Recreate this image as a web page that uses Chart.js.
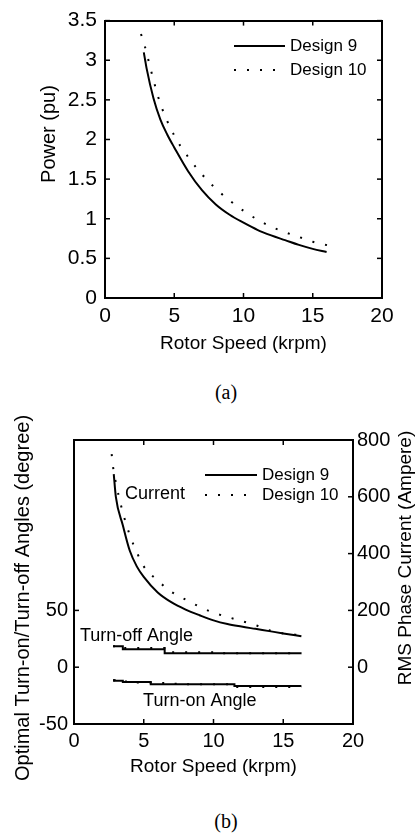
<!DOCTYPE html>
<html>
<head>
<meta charset="utf-8">
<title>Power and optimal angles vs rotor speed</title>
<script src="https://cdn.jsdelivr.net/npm/chart.js@4.4.1/dist/chart.umd.min.js"></script>
<style>
  html, body { margin: 0; padding: 0; background: #fff; }
  body { width: 417px; height: 835px; position: relative; overflow: hidden; }
  canvas { position: absolute; left: 0; }
  #powerChart { top: 0; }
  #angleChart { top: 405px; }
  .caption { position: absolute; left: 186px; width: 80px; text-align: center; font: 20px "Liberation Serif", serif; color: #000; }
</style>
</head>
<body>
<canvas id="powerChart" width="417" height="375"></canvas>
<div class="caption" style="top:381px">(a)</div>
<canvas id="angleChart" width="417" height="400"></canvas>
<div class="caption" style="top:810px">(b)</div>
<script>
'use strict';

// tick labels
const speedTicks = [0, 5, 10, 15, 20];
const powerTicks = [0, 0.5, 1, 1.5, 2, 2.5, 3, 3.5];
const angleTicks = [-50, 0, 50];
const currentTicks = [0, 200, 400, 600, 800];

// (a) power vs rotor speed
const powerSpeed9 = [2.8, 2.9, 3, 3.5, 4, 4.5, 5, 6, 7, 8, 9, 10, 11, 12, 13, 14, 15, 16];
const power9 = [3.1, 3.0, 2.9, 2.52, 2.25, 2.06, 1.9, 1.6, 1.36, 1.18, 1.05, 0.95, 0.86, 0.79, 0.73, 0.67, 0.62, 0.58];
const powerSpeed10 = [2.6, 2.9, 3.5, 4, 5, 6, 7, 8, 9, 10, 11, 12, 13, 14, 15, 16.2];
const power10 = [3.33, 3.16, 2.75, 2.45, 2.05, 1.78, 1.56, 1.38, 1.23, 1.1, 0.99, 0.9, 0.83, 0.77, 0.71, 0.66];

// (b) RMS phase current vs rotor speed
const currentSpeed9 = [2.85, 3, 3.5, 4, 4.5, 5, 6, 7, 8, 9, 10, 11, 12, 13, 14, 15, 16.3];
const current9 = [680, 600, 500, 410, 355, 318, 263, 228, 203, 183, 165, 152, 143, 135, 127, 119, 109];
const currentSpeed10 = [2.7, 2.8, 3, 3.5, 4, 4.5, 5, 6, 7, 8, 9, 10, 11, 12, 13, 14, 15, 16.3];
const current10 = [750, 705, 650, 545, 465, 405, 355, 305, 265, 238, 213, 192, 177, 163, 148, 130, 119, 113];

// (b) optimal turn-on / turn-off angles
const angleSpeed = [2.8, 3, 4, 5, 6, 7, 8, 9, 10, 11, 12, 13, 14, 15, 16.3];
const turnOff9 = [18.4, 18.4, 15.8, 15.8, 15.8, 12.3, 12.3, 12.3, 12.3, 12.3, 12.3, 12.3, 12.3, 12.3, 12.3];
const turnOff10 = [18.4, 18.4, 16.8, 16.8, 16.8, 13.2, 13.2, 13.2, 13.2, 12.3, 12.3, 12.3, 12.3, 12.3, 12.3];
const turnOn9 = [-11.5, -12, -13, -13, -15, -15, -15, -15, -15, -15, -16.5, -16.5, -16.5, -16.5, -16.5];
const turnOn10 = [-11.5, -12, -12.5, -13.5, -14, -14.5, -15, -15, -15, -15, -17.5, -17.5, -17.5, -17.5, -17.5];

const BLACK = '#000';
const FONT = 'Liberation Sans';
const DOTS = [2, 11];

Chart.defaults.font.family = FONT;
Chart.defaults.color = BLACK;

const pts = (xs, ys) => xs.map((x, i) => ({ x, y: ys[i] }));

function line(label, data, dotted, yAxisID, stepped) {
  return {
    label,
    data,
    yAxisID,
    borderColor: BLACK,
    borderWidth: 2,
    borderDash: dotted ? DOTS : [],
    pointRadius: 0,
    cubicInterpolationMode: stepped ? 'default' : 'monotone',
    fill: false,
    stepped: stepped ? 'middle' : false
  };
}

// one side of the boxed frame; tick marks are drawn inward by the plugin below
function axis(position, min, max, tickValues, size, tickOpts) {
  return {
    type: 'linear',
    position,
    min,
    max,
    afterBuildTicks: s => { s.ticks = tickValues.map(v => ({ value: v })); },
    afterFit: s => {
      if (position === 'top' || position === 'bottom') s.height = size;
      else s.width = size;
    },
    grid: { display: false, drawTicks: false },
    border: { display: true, color: BLACK, width: 2 },
    ticks: Object.assign({
      display: false,
      color: BLACK,
      maxRotation: 0,
      autoSkip: false,
      callback: v => String(v)
    }, tickOpts || {})
  };
}

const inwardTicks = {
  id: 'inwardTicks',
  afterDatasetsDraw(chart, args, opts) {
    const ctx = chart.ctx;
    const area = chart.chartArea;
    const len = opts.length || 5;
    ctx.save();
    ctx.strokeStyle = BLACK;
    ctx.lineWidth = 1.5;
    Object.values(chart.scales).forEach(scale => {
      scale.ticks.forEach(t => {
        const p = scale.getPixelForValue(t.value);
        ctx.beginPath();
        if (scale.position === 'bottom') { ctx.moveTo(p, area.bottom); ctx.lineTo(p, area.bottom - len); }
        else if (scale.position === 'top') { ctx.moveTo(p, area.top); ctx.lineTo(p, area.top + len); }
        else if (scale.position === 'left') { ctx.moveTo(area.left, p); ctx.lineTo(area.left + len, p); }
        else { ctx.moveTo(area.right, p); ctx.lineTo(area.right - len, p); }
        ctx.stroke();
      });
    });
    ctx.restore();
  }
};

const sideTitles = {
  id: 'sideTitles',
  afterDraw(chart, args, opts) {
    const ctx = chart.ctx;
    (opts.items || []).forEach(item => {
      ctx.save();
      ctx.translate(item.x, item.y);
      ctx.rotate(-Math.PI / 2);
      ctx.font = item.font;
      ctx.fillStyle = BLACK;
      ctx.textAlign = 'center';
      ctx.textBaseline = 'middle';
      ctx.fillText(item.text, 0, 0);
      ctx.restore();
    });
  }
};

const insideLegend = {
  id: 'insideLegend',
  afterDatasetsDraw(chart, args, opts) {
    const ctx = chart.ctx;
    (opts.rows || []).forEach((row, i) => {
      const ds = chart.data.datasets[row];
      const y = opts.y + i * opts.rowGap;
      ctx.save();
      ctx.strokeStyle = ds.borderColor;
      ctx.lineWidth = ds.borderWidth;
      ctx.setLineDash(ds.borderDash || []);
      ctx.beginPath();
      ctx.moveTo(opts.x, y);
      ctx.lineTo(opts.x + opts.lineLength, y);
      ctx.stroke();
      ctx.setLineDash([]);
      ctx.font = opts.font;
      ctx.fillStyle = BLACK;
      ctx.textAlign = 'left';
      ctx.textBaseline = 'middle';
      ctx.fillText(ds.label, opts.x + opts.lineLength + opts.gap, y);
      ctx.restore();
    });
  }
};

const curveNotes = {
  id: 'curveNotes',
  afterDatasetsDraw(chart, args, opts) {
    const ctx = chart.ctx;
    const xs = chart.scales.x;
    const ys = chart.scales.y;
    ctx.save();
    ctx.font = opts.font;
    ctx.fillStyle = BLACK;
    ctx.textAlign = 'left';
    ctx.textBaseline = 'middle';
    (opts.items || []).forEach(n => {
      ctx.fillText(n.text, xs.getPixelForValue(n.x), ys.getPixelForValue(n.y));
    });
    ctx.restore();
  }
};

const speedTitle = (bottomPad) => ({
  display: true,
  text: 'Rotor Speed (krpm)',
  color: BLACK,
  font: { family: FONT, size: 19 },
  padding: { top: 0, bottom: bottomPad }
});

// (a)
const xA = axis('bottom', 0, 20, speedTicks, 77, { display: true, padding: 6, font: { size: 21 } });
xA.title = speedTitle(20);

new Chart(document.getElementById('powerChart'), {
  type: 'line',
  data: {
    datasets: [
      line('Design 9', pts(powerSpeed9, power9), false, 'y'),
      line('Design 10', pts(powerSpeed10, power10), true, 'y')
    ]
  },
  options: {
    responsive: false,
    animation: false,
    layout: { padding: 0 },
    plugins: {
      legend: { display: false },
      tooltip: { enabled: false },
      inwardTicks: { length: 5 },
      insideLegend: { rows: [0, 1], x: 234, y: 46, rowGap: 24, lineLength: 51, gap: 5, font: '17px ' + FONT },
      sideTitles: { items: [{ text: 'Power (pu)', x: 49, y: 134, font: '20px ' + FONT }] }
    },
    scales: {
      x: xA,
      xTop: axis('top', 0, 20, speedTicks, 16),
      y: axis('left', 0, 3.5, powerTicks, 105, { display: true, padding: 8, font: { size: 21 } }),
      yRight: axis('right', 0, 3.5, powerTicks, 35)
    }
  },
  plugins: [inwardTicks, insideLegend, sideTitles]
});

// (b)
const xB = axis('bottom', 0, 20, speedTicks, 81, { display: true, padding: 5, font: { size: 20 } });
xB.title = speedTitle(27);

new Chart(document.getElementById('angleChart'), {
  type: 'line',
  data: {
    datasets: [
      line('Design 9', pts(currentSpeed9, current9), false, 'yCurrent'),
      line('Design 10', pts(currentSpeed10, current10), true, 'yCurrent'),
      line('Design 9 turn-off', pts(angleSpeed, turnOff9), false, 'y', true),
      line('Design 10 turn-off', pts(angleSpeed, turnOff10), true, 'y', true),
      line('Design 9 turn-on', pts(angleSpeed, turnOn9), false, 'y', true),
      line('Design 10 turn-on', pts(angleSpeed, turnOn10), true, 'y', true)
    ]
  },
  options: {
    responsive: false,
    animation: false,
    layout: { padding: 0 },
    plugins: {
      legend: { display: false },
      tooltip: { enabled: false },
      inwardTicks: { length: 5 },
      insideLegend: { rows: [0, 1], x: 205, y: 70, rowGap: 20, lineLength: 52, gap: 5, font: '17px ' + FONT },
      curveNotes: {
        font: '18px ' + FONT,
        items: [
          { text: 'Current', x: 3.66, y: 152 },
          { text: 'Turn-off Angle', x: 0.43, y: 27 },
          { text: 'Turn-on Angle', x: 4.95, y: -30 }
        ]
      },
      sideTitles: {
        items: [
          { text: 'Optimal Turn-on/Turn-off Angles (degree)', x: 23, y: 193, font: '20px ' + FONT },
          { text: 'RMS Phase Current (Ampere)', x: 406, y: 153, font: '19px ' + FONT }
        ]
      }
    },
    scales: {
      x: xB,
      xTop: axis('top', 0, 20, speedTicks, 35),
      y: axis('left', -50, 200, angleTicks, 74, { display: true, padding: 6, font: { size: 20 } }),
      yCurrent: axis('right', -200, 800, currentTicks, 64, { display: true, padding: 4, font: { size: 20 } })
    }
  },
  plugins: [inwardTicks, insideLegend, curveNotes, sideTitles]
});
</script>
</body>
</html>
